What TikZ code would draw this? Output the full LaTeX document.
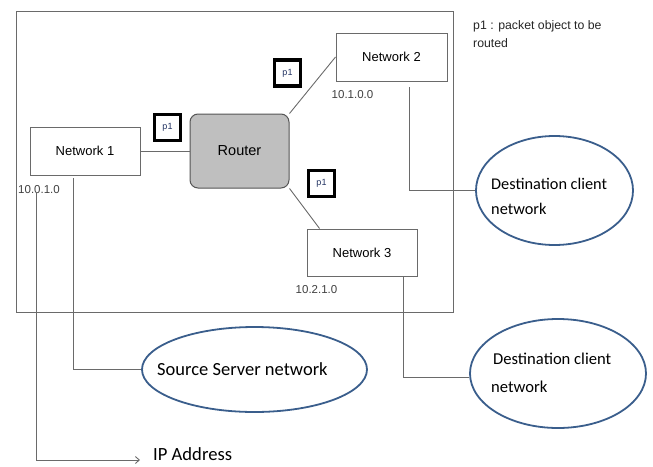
\documentclass[tikz,border=0pt]{standalone}
\usepackage{fontspec}
\setmainfont{Liberation Sans}
\newfontfamily\calfont{Carlito}
\usetikzlibrary{shapes.geometric,calc,arrows.meta}
\definecolor{lin}{HTML}{6A6A6A}
\definecolor{ell}{HTML}{3A5E8C}
\definecolor{lbl}{HTML}{404040}
\definecolor{pblue}{HTML}{1F3060}
\tikzset{
  netbox/.style={draw=lin, line width=1pt, minimum width=110pt, minimum height=48pt, inner sep=0pt, font=\fontsize{13}{15}\selectfont},
  pbox/.style={draw=black, line width=3.5pt, minimum size=26pt, inner sep=0pt, font=\fontsize{9}{10}\selectfont\color{pblue}},
  iplbl/.style={inner sep=0pt, text=lbl, font=\fontsize{11.5}{13}\selectfont},
  cloud/.style={draw=ell, ellipse, line width=1.8pt, inner sep=0pt},
  wire/.style={draw=lin, line width=0.9pt},
}
\begin{document}
\begin{tikzpicture}[x=1pt,y=-1pt]
\useasboundingbox (0,0) rectangle (653,466);
\node[draw=lin, line width=1pt, minimum width=437pt, minimum height=301pt, inner sep=0pt] (frame) at (234.5,161.5) {};
\node[netbox] (n1) at (85,151) {Network 1};
\node[netbox, minimum width=111pt] (n2) at (391.5,57) {Network 2};
\node[netbox, minimum height=47pt] (n3) at (362,252.5) {Network 3};
\node[draw=lin!80!black, fill=black!25, rounded corners=8pt, line width=1pt, minimum width=99pt, minimum height=74pt, inner sep=0pt, font=\fontsize{14.5}{16}\selectfont] (router) at (239.5,151) {Router};
\node[pbox] (pa) at (167.5,127.5) {p1};
\node[pbox] (pb) at (287.5,73) {p1};
\node[pbox] (pc) at (321.5,183.5) {p1};
\node[iplbl] (ip1) at (39,190) {10.0.1.0};
\node[iplbl] (ip2) at (352.5,95) {10.1.0.0};
\node[iplbl] (ip3) at (316.5,290) {10.2.1.0};
\node[anchor=north west, inner sep=0pt, align=left, font=\fontsize{12.3}{18}\selectfont, text=black!85] (legend) at (473,20) {p1 : packet object to be\\routed};
\node[cloud, minimum width=157pt, minimum height=109pt] (e1) at (554.5,190.5) {};
\node[anchor=west, inner sep=0pt, align=left, font=\calfont\fontsize{16.3}{25}\selectfont] (t1) at (491,196) {Destination client\\network};
\node[cloud, minimum width=176pt, minimum height=109pt] (e2) at (558,373.5) {};
\node[anchor=west, inner sep=0pt, align=left, font=\calfont\fontsize{16.6}{28}\selectfont] (t2) at (491,373) {\hspace{2pt}Destination client\\network};
\node[cloud, minimum width=225pt, minimum height=85pt] (e3) at (254.5,369.5) {};
\node[anchor=west, inner sep=0pt, font=\calfont\fontsize{18.5}{22}\selectfont] (t3) at (157,369) {Source Server network};
\node[anchor=base west, inner sep=0pt, text depth=0pt, font=\calfont\fontsize{18.6}{22}\selectfont] (t4) at (153,460) {IP Address};
\coordinate (c2) at (409,87);
\coordinate (c3) at (403,277);
\coordinate (c1) at (73,178);
\coordinate (c0) at (36,192);
\coordinate (ipend) at (140,460);
\draw[wire] (n1.east) -- (router.west);
\draw[wire] (router.north east) -- (n2.west);
\draw[wire] (router.south east) -- ($(n3.north west)+(13,0)$);
\draw[wire] (c2) |- (e1.west);
\draw[wire] (c3) |- ($(e2.west)+(0,4)$);
\draw[wire] (c1) |- (e3.west);
\draw[wire, -{Straight Barb[length=4pt,width=7pt]}] (c0) |- (ipend);
\end{tikzpicture}
\end{document}
